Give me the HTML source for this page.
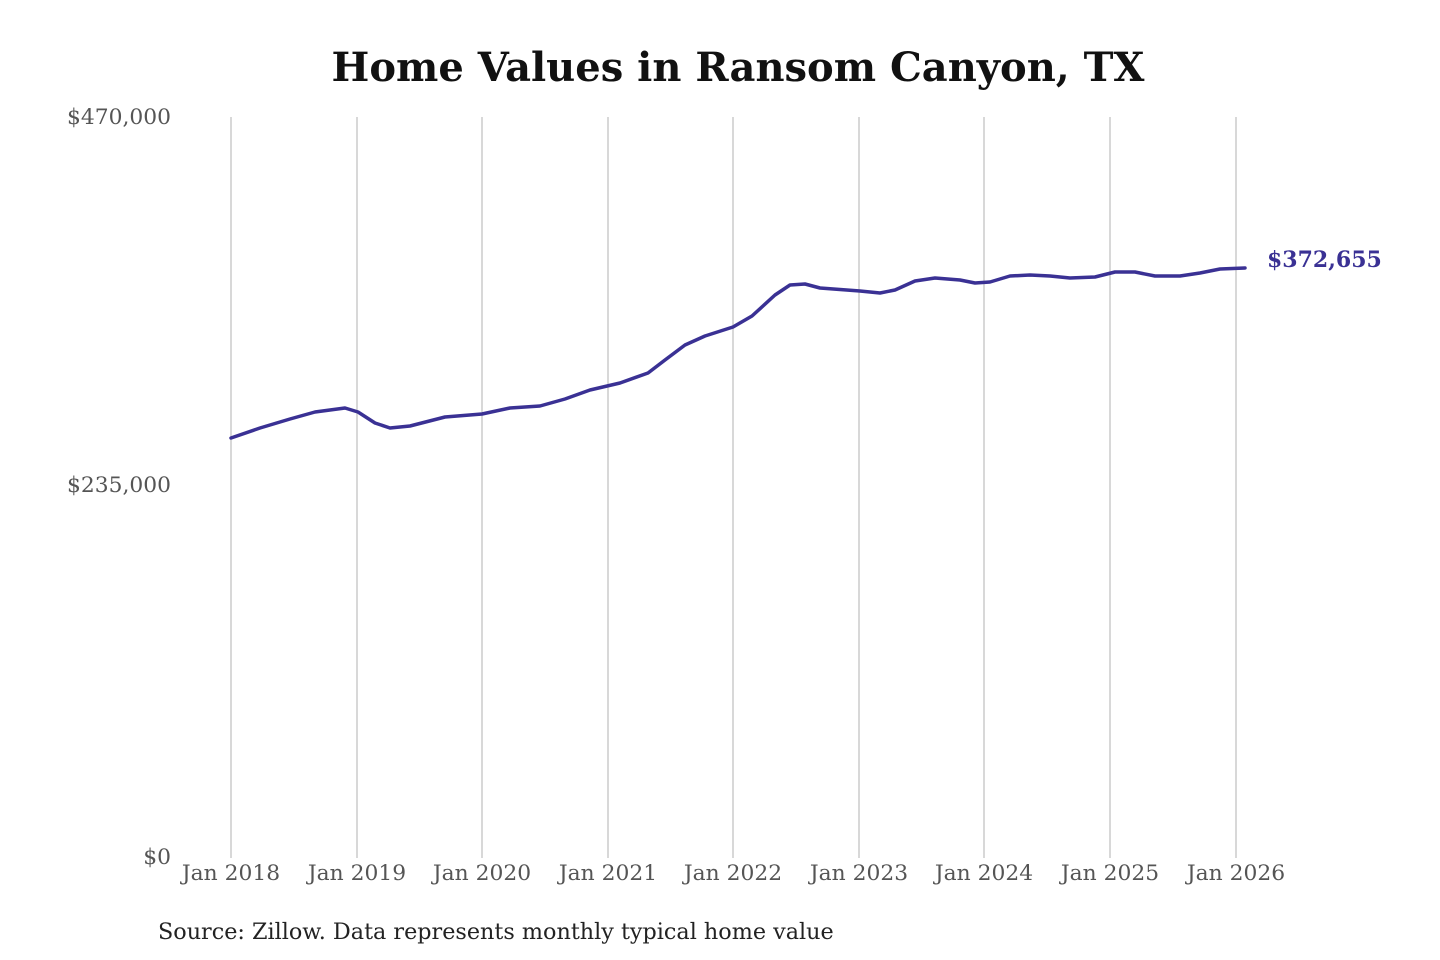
<!DOCTYPE html>
<html><head><meta charset="utf-8"><style>
html,body{margin:0;padding:0;background:#fff;}
svg{display:block;}
</style></head><body>
<svg width="1440" height="960" xmlns="http://www.w3.org/2000/svg" font-family="DejaVu Serif, Liberation Serif, serif">
<rect width="1440" height="960" fill="#fff"/>
<text x="738" y="81" text-anchor="middle" font-size="40" font-weight="bold" fill="#111">Home Values in Ransom Canyon, TX</text>
<g stroke="#c4c4c4" stroke-width="1.3">
<line x1="231" y1="117" x2="231" y2="858"/>
<line x1="357" y1="117" x2="357" y2="858"/>
<line x1="482" y1="117" x2="482" y2="858"/>
<line x1="608" y1="117" x2="608" y2="858"/>
<line x1="733" y1="117" x2="733" y2="858"/>
<line x1="859" y1="117" x2="859" y2="858"/>
<line x1="984" y1="117" x2="984" y2="858"/>
<line x1="1110" y1="117" x2="1110" y2="858"/>
<line x1="1236" y1="117" x2="1236" y2="858"/>
</g>
<g font-size="21.8" fill="#555" text-anchor="end">
<text x="171" y="124">$470,000</text>
<text x="171" y="492">$235,000</text>
<text x="171" y="864">$0</text>
</g>
<g font-size="21.8" fill="#555" text-anchor="middle">
<text x="231" y="880">Jan 2018</text>
<text x="357" y="880">Jan 2019</text>
<text x="482" y="880">Jan 2020</text>
<text x="608" y="880">Jan 2021</text>
<text x="733" y="880">Jan 2022</text>
<text x="859" y="880">Jan 2023</text>
<text x="984" y="880">Jan 2024</text>
<text x="1110" y="880">Jan 2025</text>
<text x="1236" y="880">Jan 2026</text>
</g>
<polyline fill="none" stroke="#3a3194" stroke-width="3.5" stroke-linejoin="round" stroke-linecap="round"
points="231,438 260,428 290,419 315,412 345,408 358,412 375,423 390,428 410,426 445,417 482,414 510,408 540,406 565,399 590,390 620,383 648,373 665,360 685,345 705,336 733,327 752,316 775,295 790,285 805,284 820,288 860,291 880,293 895,290 915,281 935,278 960,280 975,283 990,282 1010,276 1030,275 1050,276 1070,278 1095,277 1115,272 1135,272 1155,276 1180,276 1200,273 1220,269 1245,268"/>
<text x="1267" y="267" font-size="22" font-weight="bold" fill="#3a3194">$372,655</text>
<text x="158" y="939" font-size="22.3" fill="#222">Source: Zillow. Data represents monthly typical home value</text>
</svg>
</body></html>
